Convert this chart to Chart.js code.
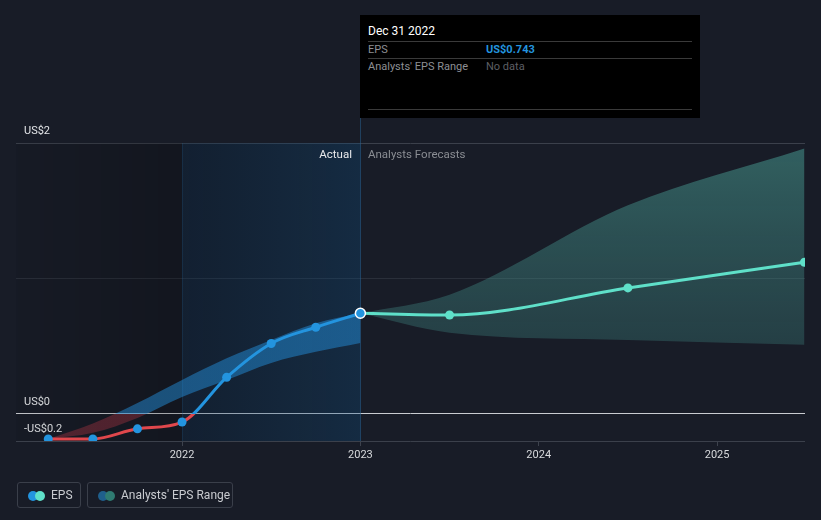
<!DOCTYPE html>
<html>
<head>
<meta charset="utf-8">
<script src="https://cdn.jsdelivr.net/npm/chart.js@4/dist/chart.umd.min.js"></script>
<style>
  html,body{margin:0;padding:0;background:#181c27;}
  #wrap{position:relative;width:821px;height:520px;background:#181c27;font-family:Roboto,"Open Sans",Arial,sans-serif;overflow:hidden;}
  canvas{position:absolute;left:0;top:0;}
  .tip{position:absolute;left:360px;top:15px;width:340px;height:103px;background:#000;}
  .tip .t{position:absolute;left:8px;top:9px;font-size:12px;color:#fff;}
  .tip .ln{position:absolute;left:8px;width:324px;height:1px;background:#3a3a3a;}
  .tip .lab{position:absolute;left:8px;font-size:11px;color:#8d8f94;}
  .tip .val{position:absolute;left:126px;font-size:11px;}
  .ann{position:absolute;font-size:11.5px;top:147px;}
  .leg{position:absolute;top:482px;height:26px;border:1px solid #3a3f4a;border-radius:3px;box-sizing:border-box;font-size:12px;color:#c9cbd0;}
  .leg .d{position:absolute;top:8px;width:10px;height:10px;border-radius:50%;}
  .leg span.txt{position:absolute;top:5px;}
</style>
</head>
<body>
<div id="wrap">
  <canvas id="c" width="821" height="520"></canvas>
  <div class="tip">
    <div class="t">Dec 31 2022</div>
    <div class="ln" style="top:26px"></div>
    <div class="lab" style="top:28px">EPS</div>
    <div class="val" style="top:28px;color:#2394df;font-weight:bold">US$0.743</div>
    <div class="ln" style="top:43px"></div>
    <div class="lab" style="top:45px">Analysts' EPS Range</div>
    <div class="val" style="top:45px;color:#5d5f64">No data</div>
    <div class="ln" style="top:94px"></div>
  </div>
  <div class="ann" style="right:469px;color:#e8e9eb">Actual</div>
  <div class="ann" style="left:368px;color:#8a8d93">Analysts Forecasts</div>
  <div class="leg" style="left:17px;width:64px">
    <div class="d" style="left:10px;background:#2394df"></div>
    <div class="d" style="left:17px;background:#5fe0c9"></div>
    <span class="txt" style="left:33px">EPS</span>
  </div>
  <div class="leg" style="left:87px;width:146px">
    <div class="d" style="left:10px;background:#1f5f8c"></div>
    <div class="d" style="left:17px;background:#2f7b72"></div>
    <span class="txt" style="left:33px">Analysts' EPS Range</span>
  </div>
</div>
<script>
// ---- data ----
const actualDates = [2021.25, 2021.5, 2021.75, 2022.0, 2022.25, 2022.5, 2022.75, 2023.0];
const actualEps   = [-0.185, -0.185, -0.11, -0.06, 0.27, 0.52, 0.64, 0.743];
const actualLow   = [-0.185, -0.14, -0.03, 0.125, 0.25, 0.376, 0.458, 0.524];
const actualHigh  = [-0.185, -0.07, 0.08, 0.25, 0.41, 0.546, 0.67, 0.743];
const forecastDates = [2023.0, 2023.5, 2024.5, 2025.49];
const forecastEps   = [0.743, 0.73, 0.93, 1.12];
const forecastLow   = [0.743, 0.6, 0.546, 0.51];
const forecastHigh  = [0.743, 0.88, 1.54, 1.96];
const yTicks = [-0.2, 0, 1, 2];
const xTicks = [2022, 2023, 2024, 2025];
const xMin = 2021.069, xMax = 2025.493, yMin = -0.2, yMax = 2;

const pts = (xs, ys) => xs.map((x, i) => ({x, y: ys[i]}));
const BLUE = '#2394df', RED = '#e0474c', TEAL = '#5fe0c9';

function zeroSplit(ctx, above, below) {
  const chart = ctx.chart; const ca = chart.chartArea;
  if (!ca) return above;
  const z = chart.scales.y.getPixelForValue(0);
  const t = Math.min(1, Math.max(0, (z - ca.top) / (ca.bottom - ca.top)));
  const g = chart.ctx.createLinearGradient(0, ca.top, 0, ca.bottom);
  g.addColorStop(0, above); g.addColorStop(t, above);
  g.addColorStop(t, below); g.addColorStop(1, below);
  return g;
}

const shade = {
  id: 'shade',
  beforeDatasetsDraw(chart) {
    const {ctx, chartArea: ca, scales: {x}} = chart;
    const x22 = x.getPixelForValue(2022), x23 = x.getPixelForValue(2023);
    ctx.save();
    let g = ctx.createLinearGradient(ca.left, 0, x22, 0);
    g.addColorStop(0, 'rgba(0,0,0,0.05)'); g.addColorStop(1, 'rgba(0,0,0,0.2)');
    ctx.fillStyle = g; ctx.fillRect(ca.left, ca.top, x22 - ca.left, ca.bottom - ca.top);
    g = ctx.createLinearGradient(x22, 0, x23, 0);
    g.addColorStop(0, 'rgba(5,45,80,0.25)'); g.addColorStop(1, 'rgba(15,80,130,0.3)');
    ctx.fillStyle = g; ctx.fillRect(x22, ca.top, x23 - x22, ca.bottom - ca.top);
    ctx.strokeStyle = 'rgba(40,90,130,0.25)'; ctx.lineWidth = 1;
    ctx.beginPath(); ctx.moveTo(Math.round(x22)+0.5, ca.top); ctx.lineTo(Math.round(x22)+0.5, ca.bottom); ctx.stroke();
    ctx.strokeStyle = 'rgba(40,100,150,0.5)';
    ctx.beginPath(); ctx.moveTo(Math.round(x23)+0.5, 118); ctx.lineTo(Math.round(x23)+0.5, ca.bottom); ctx.stroke();
    ctx.restore();
  }
};

new Chart(document.getElementById('c'), {
  type: 'line',
  data: {
    datasets: [
      {
        label: 'EPS', data: pts(actualDates, actualEps),
        borderColor: ctx => zeroSplit(ctx, BLUE, RED),
        borderWidth: 3, cubicInterpolationMode: 'monotone',
        pointRadius: ctx => ctx.dataIndex === actualDates.length - 1 ? 5 : 4.5,
        pointBackgroundColor: BLUE,
        pointBorderColor: ctx => ctx.dataIndex === actualDates.length - 1 ? '#ffffff' : BLUE,
        pointBorderWidth: ctx => ctx.dataIndex === actualDates.length - 1 ? 1.5 : 0,
        fill: false, clip: 0
      },
      {
        label: 'EPS forecast', data: pts(forecastDates, forecastEps),
        borderColor: TEAL, borderWidth: 3, cubicInterpolationMode: 'monotone',
        pointRadius: ctx => ctx.dataIndex === 0 ? 0 : 4.5,
        pointBackgroundColor: TEAL, pointBorderWidth: 0, fill: false, clip: 0
      },
      {
        label: 'Range high', data: pts(forecastDates, forecastHigh),
        borderWidth: 0, pointRadius: 0, cubicInterpolationMode: 'monotone',
        fill: '+1',
        backgroundColor: ctx => {
          const ca = ctx.chart.chartArea; if (!ca) return 'rgba(64,140,132,0.4)';
          const g = ctx.chart.ctx.createLinearGradient(0, ca.top, 0, ca.bottom);
          g.addColorStop(0, 'rgba(74,160,150,0.52)'); g.addColorStop(1, 'rgba(58,118,118,0.25)');
          return g;
        }, clip: 0
      },
      {
        label: 'Range low', data: pts(forecastDates, forecastLow),
        borderWidth: 0, pointRadius: 0, cubicInterpolationMode: 'monotone', fill: false, clip: 0
      },
      {
        label: 'Past high', data: pts(actualDates, actualHigh),
        borderWidth: 0, pointRadius: 0, cubicInterpolationMode: 'monotone',
        fill: '+1',
        backgroundColor: ctx => zeroSplit(ctx, 'rgba(35,140,215,0.5)', 'rgba(190,55,70,0.35)'),
        clip: 0
      },
      {
        label: 'Past low', data: pts(actualDates, actualLow),
        borderWidth: 0, pointRadius: 0, cubicInterpolationMode: 'monotone', fill: false, clip: 0
      }
    ]
  },
  options: {
    responsive: false, animation: false, devicePixelRatio: 1,
    layout: {padding: {left: 16, right: 16, top: 143, bottom: 0}},
    plugins: {legend: {display: false}, tooltip: {enabled: false}},
    scales: {
      x: {
        type: 'linear', min: xMin, max: xMax,
        afterBuildTicks: s => { s.ticks = xTicks.map(v => ({value: v})); },
        afterFit: s => { s.height = 79; },
        ticks: {color: '#d8dadd', font: {size: 11, family: 'Roboto'}, padding: 3, maxRotation: 0,
                callback: v => String(v)},
        grid: {drawOnChartArea: false, drawTicks: true, tickLength: 5, color: '#3d424d'},
        border: {display: false}
      },
      y: {
        min: yMin, max: yMax,
        afterBuildTicks: s => { s.ticks = yTicks.map(v => ({value: v})); },
        afterFit: s => { s.width = 0; },
        ticks: {
          mirror: true, padding: 8, labelOffset: -12, color: '#e3e5e8',
          font: {size: 11, family: 'Roboto'},
          callback: v => v === 1 ? '' : (v < 0 ? '-US$' + Math.abs(v) : 'US$' + v)
        },
        grid: {
          drawTicks: false,
          color: ctx => ctx.tick.value === 0 ? '#c9ccd1' : (ctx.tick.value === 1 ? '#2a2f3a' : '#3b404b'),
          lineWidth: 1
        },
        border: {display: false}
      }
    }
  },
  plugins: [shade]
});
</script>
</body>
</html>
